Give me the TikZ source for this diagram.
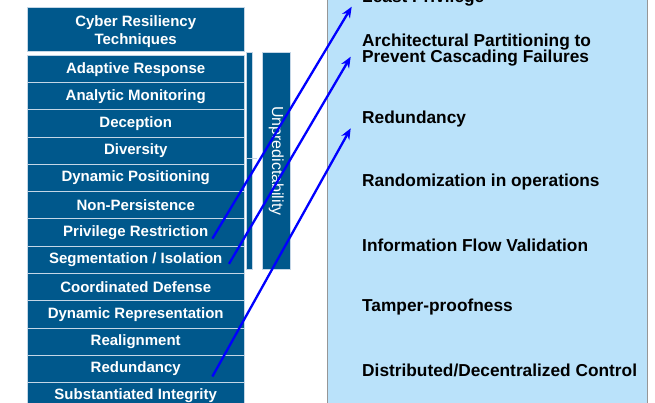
\documentclass[tikz,border=0pt]{standalone}
\usepackage{fontspec}
\setmainfont{Liberation Sans}
\usetikzlibrary{arrows.meta,calc}
\definecolor{techblue}{RGB}{0,88,140}
\definecolor{rowline}{RGB}{196,214,230}
\definecolor{panelblue}{RGB}{186,226,250}
\definecolor{panelgray}{RGB}{150,150,150}
\definecolor{arrowblue}{RGB}{0,0,255}
\tikzset{
  techbox/.style={draw=rowline, line width=1pt, fill=techblue, text=white,
    font=\fontsize{15}{17}\selectfont\bfseries, anchor=north west,
    minimum width=217pt, minimum height=27.25pt, inner sep=0pt, align=center},
  headbox/.style={techbox, minimum height=44pt},
  sidebar/.style={draw=rowline, line width=0.6pt, fill=techblue, anchor=north west, inner sep=0pt},
  goal/.style={anchor=west, text=black, font=\fontsize{17.3}{17}\selectfont\bfseries,
    inner sep=0pt, align=left},
  link/.style={draw=arrowblue, line width=2.3pt, -{Stealth[length=11pt,width=9pt]}}
}
\begin{document}
\begin{tikzpicture}[x=1pt,y=-1pt]
\useasboundingbox (0,0) rectangle (655,403);

% goals panel on the right
\node[draw=panelgray, line width=1pt, fill=panelblue, anchor=north west,
  minimum width=320pt, minimum height=420pt, inner sep=0pt] (panel) at (327,-8) {};

% technique list
\node[headbox] (head) at (26.7,7.3) {};
\node[text=white, font=\fontsize{15}{17}\selectfont\bfseries, align=center, inner sep=0pt]
  (headtxt) at ($(head.center)+(0,1.5)$) {Cyber Resiliency\\[1pt]Techniques};
\foreach \txt [count=\k from 0] in {Adaptive Response, Analytic Monitoring, Deception,
  Diversity, Dynamic Positioning, Non-Persistence, Privilege Restriction,
  Segmentation / Isolation, Coordinated Defense, Dynamic Representation,
  Realignment, Redundancy, Substantiated Integrity}
  \node[techbox] (r\k) at (26.7,55+\k*27.25) {\txt};

% bracket bar and unpredictability bar
\node[sidebar, minimum width=6pt, minimum height=106pt] (brk1) at (245.7,52) {};
\node[sidebar, minimum width=6pt, minimum height=111pt] (brk2) at (245.7,158) {};
\draw[draw=rowline, line width=0.8pt] (brk2.north east) -- ++(5,0);
\node[sidebar, minimum width=28.5pt, minimum height=217pt] (unpred) at (261.7,52) {};
\node[text=white, rotate=-90, font=\fontsize{16}{18}\selectfont, inner sep=0pt]
  (unpredtxt) at (unpred.center) {Unpredictability};

% goals
\node[goal] (g1) at (362,-2) {Least Privilege};
\node[goal] (g2) at (362,50) {Architectural Partitioning to\\[-0.5pt]Prevent Cascading Failures};
\node[goal] (g3) at (362,119.5) {Redundancy};
\node[goal] (g4) at (362,182.5) {Randomization in operations};
\node[goal] (g5) at (362,245) {Information Flow Validation};
\node[goal] (g6) at (362,307) {Tamper-proofness};
\node[goal] (g7) at (362,370) {Distributed/Decentralized Control};

% links from techniques to goals
\coordinate (s1) at ($(r6.east)+(-32.3,6)$);
\coordinate (s2) at ($(r7.east)+(-15.7,4)$);
\coordinate (s3) at ($(r11.east)+(-32.3,7.6)$);
\coordinate (t1) at (351.7,6.7);
\coordinate (t2) at (350.7,56.7);
\coordinate (t3) at (350.7,128.3);
\draw[link] (s1) -- (t1);
\draw[link] (s2) -- (t2);
\draw[link] (s3) -- (t3);
\end{tikzpicture}
\end{document}
